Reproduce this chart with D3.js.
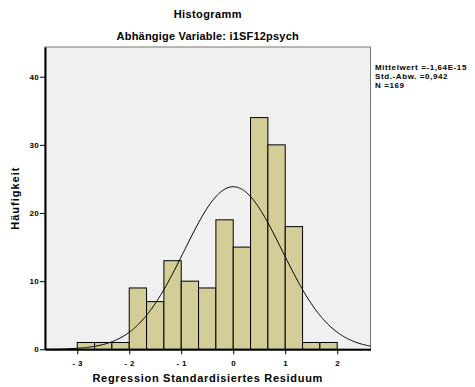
<!DOCTYPE html>
<html>
<head>
<meta charset="utf-8">
<script src="https://cdn.jsdelivr.net/npm/d3@7"></script>
<style>
  body { margin: 0; background: #fff; }
  text { font-family: "Liberation Sans", Arial, sans-serif; font-weight: bold; fill: #000; }
</style>
</head>
<body>
<div id="chart"></div>
<script>
// bin edges (lower bound) and counts
const binStarts = [-3, -8 / 3, -7 / 3, -2, -5 / 3, -4 / 3, -1, -2 / 3, -1 / 3, 0, 1 / 3, 2 / 3, 1, 4 / 3, 5 / 3];
const counts = [1, 1, 1, 9, 7, 13, 10, 9, 19, 15, 34, 30, 18, 1, 1];
const binWidth = 1 / 3;
const xTicks = [-3, -2, -1, 0, 1, 2];
const yTicks = [0, 10, 20, 30, 40];
// summary stats shown in the legend (also define the normal curve)
const mean = -1.64e-15;
const sd = 0.942;
const n = 169;
const statLines = ['Mittelwert =-1,64E-15', 'Std.-Abw. =0,942', 'N =169'];

const W = 475, H = 387;
const margin = { top: 47, left: 45 },
    width = 325.5,
    height = 302.3;

const svg = d3.select('#chart').append('svg')
    .attr('width', W)
    .attr('height', H);

const g = svg.append('g')
    .attr('transform', `translate(${margin.left},${margin.top})`);

const x = d3.scaleLinear().domain([-3.62, 2.64]).range([0, width]);
const y = d3.scaleLinear().domain([0, 44.36]).range([height, 0]);

// plot background
g.append('rect')
    .attr('width', width)
    .attr('height', height)
    .attr('fill', '#f0f0f0')
    .attr('stroke', '#777')
    .attr('stroke-width', 1);

// bars
g.selectAll('rect.bar')
    .data(counts)
    .join('rect')
    .attr('class', 'bar')
    .attr('x', (d, i) => x(binStarts[i]))
    .attr('y', d => y(d))
    .attr('width', x(binWidth) - x(0))
    .attr('height', d => y(0) - y(d))
    .attr('fill', '#d3ce98')
    .attr('stroke', '#000')
    .attr('stroke-width', 1);

// normal curve
const curveX = d3.range(-3.62, 2.641, 0.02);
const dens = v => n * binWidth / (sd * Math.sqrt(2 * Math.PI)) * Math.exp(-0.5 * ((v - mean) / sd) ** 2);
g.append('path')
    .datum(curveX)
    .attr('fill', 'none')
    .attr('stroke', '#000')
    .attr('stroke-width', 1)
    .attr('d', d3.line().x(v => x(v)).y(v => y(dens(v))));

// axes
const fmt = v => v < 0 ? '- ' + Math.abs(v) : String(v);
const xAxis = g.append('g')
    .attr('transform', `translate(0,${height})`)
    .call(d3.axisBottom(x).tickValues(xTicks).tickFormat(fmt).tickSize(5).tickSizeOuter(0));
const yAxis = g.append('g')
    .call(d3.axisLeft(y).tickValues(yTicks).tickSize(5).tickSizeOuter(0));

[xAxis, yAxis].forEach(a => {
    a.select('.domain').attr('stroke', '#000').attr('stroke-width', 2);
    a.selectAll('.tick line').attr('stroke', '#000').attr('stroke-width', 1);
    a.selectAll('.tick text')
        .style('font-family', '"Liberation Sans", Arial, sans-serif')
        .style('font-weight', 'bold')
        .style('font-size', '8px')
        .style('letter-spacing', '0.3px');
});
xAxis.selectAll('.tick text').attr('dy', '1.1em');
yAxis.selectAll('.tick text').attr('x', -6);

// titles
const cx = margin.left + width / 2;
svg.append('text')
    .attr('x', cx).attr('y', 18)
    .attr('text-anchor', 'middle')
    .style('font-size', '11px')
    .style('letter-spacing', '0.4px')
    .text('Histogramm');
svg.append('text')
    .attr('x', cx).attr('y', 40)
    .attr('text-anchor', 'middle')
    .style('font-size', '11px')
    .style('letter-spacing', '0.2px')
    .text('Abhängige Variable: i1SF12psych');

// axis labels
svg.append('text')
    .attr('x', cx).attr('y', 382)
    .attr('text-anchor', 'middle')
    .style('font-size', '11px')
    .style('letter-spacing', '0.7px')
    .text('Regression Standardisiertes Residuum');
svg.append('text')
    .attr('transform', `translate(19,${margin.top + height / 2}) rotate(-90)`)
    .attr('text-anchor', 'middle')
    .style('font-size', '11px')
    .style('letter-spacing', '1px')
    .text('Häufigkeit');

// stats legend
svg.append('g')
    .selectAll('text')
    .data(statLines)
    .join('text')
    .attr('x', 375)
    .attr('y', (d, i) => 70 + i * 9)
    .style('font-size', '8px')
    .style('letter-spacing', '0.6px')
    .text(d => d);
</script>
</body>
</html>
